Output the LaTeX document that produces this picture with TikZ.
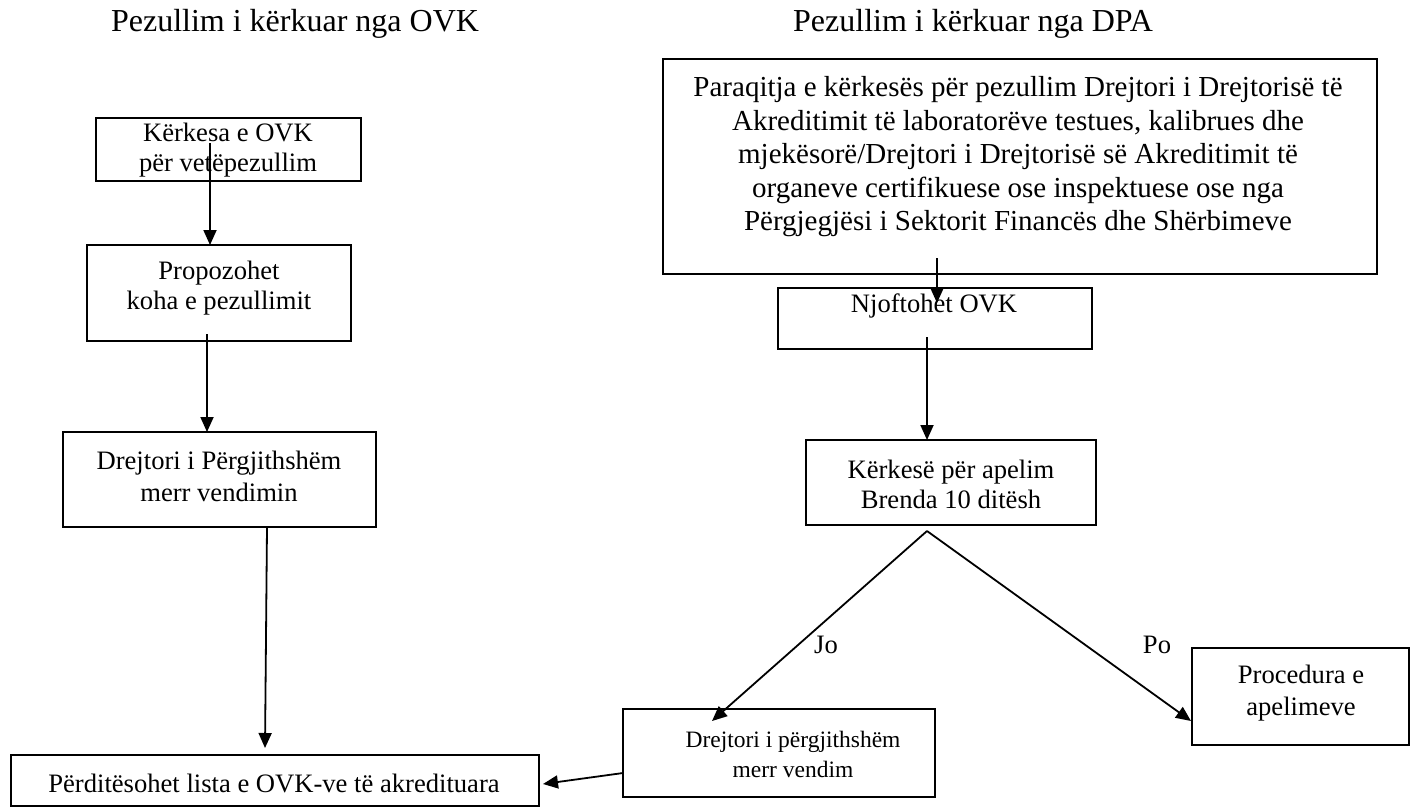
\documentclass[tikz,border=0pt]{standalone}
\usepackage{fontspec}
\setmainfont{Liberation Serif}
\usetikzlibrary{arrows.meta,calc}
\begin{document}
\begin{tikzpicture}[x=1pt,y=-1pt,
  box/.style={draw=black,line width=1.5pt,inner sep=0pt,outer sep=0pt,rectangle},
  txt/.style={inner sep=0pt,align=center,font=\fontsize{26.6}{30}\selectfont},
  ttl/.style={inner sep=0pt,font=\fontsize{32}{36}\selectfont},
  arr/.style={line width=1.8pt,-{Triangle[length=15pt,width=13pt]}},
  ln/.style={line width=1.8pt}]
\useasboundingbox (0,0) rectangle (1410,807);
% titles
\node[ttl] (t1) at (295,24) {Pezullim i kërkuar nga OVK};
\node[ttl] (t2) at (973,24) {Pezullim i kërkuar nga DPA};
% left column boxes
\node[box,minimum width=265pt,minimum height=63pt] (bA) at (228.5,149.5) {};
\node[box,minimum width=264pt,minimum height=96pt] (bB) at (219,293) {};
\node[box,minimum width=313pt,minimum height=95pt] (bC) at (219.5,479.5) {};
\node[box,minimum width=528pt,minimum height=51pt] (bD) at (275,780.5) {};
% right column boxes
\node[box,minimum width=714pt,minimum height=215pt] (bBig) at (1020,166.5) {};
\node[box,minimum width=314pt,minimum height=61pt] (bNj) at (935,318.5) {};
\node[box,minimum width=290pt,minimum height=85pt] (bK) at (951,482.5) {};
\node[box,minimum width=217pt,minimum height=97pt] (bPr) at (1300.5,696.5) {};
\node[box,minimum width=312pt,minimum height=88pt] (bDr) at (779,753) {};
% texts
\node[txt] (tA) at (228,150) {Kërkesa e OVK\\për vetëpezullim};
\node[txt] (tB) at (219,288) {Propozohet\\koha e pezullimit};
\node[txt,font=\fontsize{26.6}{32}\selectfont] (tC) at (219,476) {Drejtori i Përgjithshëm\\merr vendimin};
\node[txt] (tD) at (274,783) {Përditësohet lista e OVK-ve të akredituara};
\node[txt,font=\fontsize{29}{33.5}\selectfont] (tBig) at (1018,157) {Paraqitja e kërkesës për pezullim Drejtori i Drejtorisë të\\Akreditimit të laboratorëve testues, kalibrues dhe\\mjekësorë/Drejtori i Drejtorisë së Akreditimit të\\organeve certifikuese ose inspektuese ose nga\\Përgjegjësi i Sektorit Financës dhe Shërbimeve};
\node[txt] (tNj) at (934,306) {Njoftohet OVK};
\node[txt] (tK) at (951,484) {Kërkesë për apelim\\Brenda 10 ditësh};
\node[txt,font=\fontsize{26.6}{32}\selectfont] (tPr) at (1301,693) {Procedura e\\apelimeve};
\node[txt,font=\fontsize{23.5}{30}\selectfont] (tDr) at (793,754) {Drejtori i përgjithshëm\\merr vendim};
\node[txt] (jo) at (826,645) {Jo};
\node[txt] (po) at (1157,645) {Po};
% connector coordinates
\coordinate (a1s) at (210,143);
\coordinate (a2s) at (207,334);
\coordinate (a3s) at (267,527);
\coordinate (a3e) at (265,748);
\coordinate (a4s) at (937,258);
\coordinate (a4e) at (937,303);
\coordinate (a5s) at (927,337);
\coordinate (apex) at (927,531);
\coordinate (joe) at (712,721);
\coordinate (poe) at (1191,721);
\coordinate (a6s) at (623,773);
\coordinate (a6e) at (543,784);
% connectors
\draw[arr] (a1s) -- (a1s |- bB.north);
\draw[arr] (a2s) -- (a2s |- bC.north);
\draw[arr] (a3s) -- (a3e);
\draw[arr] (a4s) -- (a4e);
\draw[arr] (a5s) -- (a5s |- bK.north);
\draw[arr] (apex) -- (joe);
\draw[arr] (apex) -- (poe);
\draw[arr] (a6s) -- (a6e);
\end{tikzpicture}
\end{document}
